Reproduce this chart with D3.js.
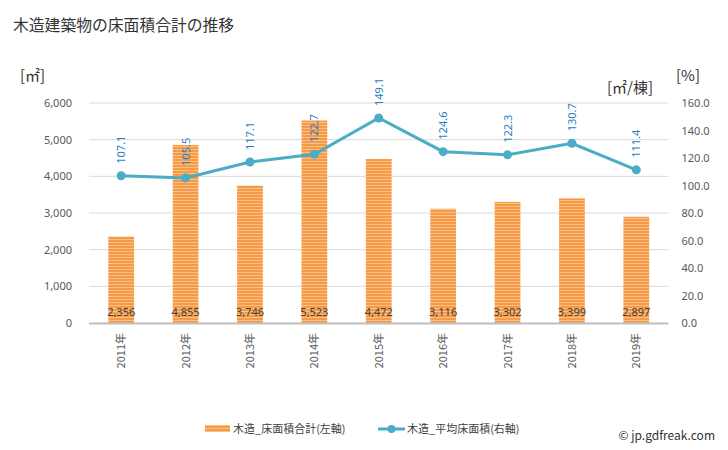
<!DOCTYPE html>
<html><head><meta charset="utf-8">
<script src="https://cdn.jsdelivr.net/npm/d3@7"></script>
<style>body{margin:0;background:#fff;}svg{display:block;font-family:"Noto Sans CJK JP","Noto Sans",sans-serif;}</style>
</head><body>
<svg id="c" width="728" height="450"></svg>
<script>
const categories = ["2011年","2012年","2013年","2014年","2015年","2016年","2017年","2018年","2019年"];
const areaTotal = [2356,4855,3746,5523,4472,3116,3302,3399,2897];
const avgArea = [107.1,105.5,117.1,122.7,149.1,124.6,122.3,130.7,111.4];
const leftTicks = [0,1000,2000,3000,4000,5000,6000];
const rightTicks = [0,20,40,60,80,100,120,140,160];
const seriesNames = ["木造_床面積合計(左軸)","木造_平均床面積(右軸)"];

const svg = d3.select("#c");
const L = 89, R = 668.5, T = 103, B = 323;
const x = d3.scaleBand().domain(categories).range([L,R]).paddingInner(0.6).paddingOuter(0.3);
const xc = d => x(d) + x.bandwidth()/2;
const yL = d3.scaleLinear().domain([0,6000]).range([B,T]);
const yR = d3.scaleLinear().domain([0,160]).range([B,T]);

const defs = svg.append("defs");
const pat = defs.append("pattern").attr("id","stripe").attr("patternUnits","userSpaceOnUse").attr("width",4).attr("height",3);
pat.append("rect").attr("width",4).attr("height",3).attr("fill","#fbc08a");
pat.append("rect").attr("width",4).attr("height",2).attr("fill","#f79a45");

svg.append("text").attr("x",13).attr("y",31).attr("font-size",15.8).attr("fill","#333").text("木造建築物の床面積合計の推移");

// gridlines
svg.append("g").selectAll("line").data(leftTicks.filter(d=>d>0)).join("line")
  .attr("x1",L).attr("x2",R).attr("y1",d=>yL(d)).attr("y2",d=>yL(d))
  .attr("stroke","#d9d9d9").attr("stroke-width",1);

// left axis
const ga = svg.append("g").attr("transform",`translate(${L-14},0)`)
  .call(d3.axisLeft(yL).tickValues(leftTicks).tickFormat(d3.format(",")).tickSize(0));
ga.select(".domain").remove();
ga.selectAll("text").attr("font-size",11).attr("fill","#595959").attr("font-family","Noto Sans, sans-serif");

const gr = svg.append("g").attr("transform",`translate(${R+10},0)`)
  .call(d3.axisRight(yR).tickValues(rightTicks).tickFormat(d3.format(".1f")).tickSize(0));
gr.select(".domain").remove();
gr.selectAll("text").attr("font-size",11).attr("fill","#595959").attr("font-family","Noto Sans, sans-serif");

// bars
svg.append("g").selectAll("rect").data(areaTotal).join("rect")
  .attr("x",(d,i)=>x(categories[i])).attr("width",x.bandwidth())
  .attr("y",d=>yL(d)).attr("height",d=>B-yL(d)).attr("fill","url(#stripe)");

// baseline
svg.append("line").attr("x1",L).attr("x2",R).attr("y1",B+0.5).attr("y2",B+0.5).attr("stroke","#bfbfbf").attr("stroke-width",2);

// bar labels
svg.append("g").selectAll("text").data(areaTotal).join("text")
  .attr("x",(d,i)=>xc(categories[i])).attr("y",B-7).attr("text-anchor","middle")
  .attr("font-size",11).attr("fill","#404040").attr("font-family","Noto Sans, sans-serif")
  .text(d=>d3.format(",")(d));

// x labels
svg.append("g").selectAll("text").data(categories).join("text")
  .attr("transform",d=>`translate(${xc(d)+4},${B+10}) rotate(-90)`)
  .attr("text-anchor","end").attr("font-size",11).attr("fill","#595959")
  .text(d=>d);

// line
const line = d3.line().x((d,i)=>xc(categories[i])).y(d=>yR(d));
svg.append("path").datum(avgArea).attr("d",line).attr("fill","none").attr("stroke","#4bacc6").attr("stroke-width",3);
svg.append("g").selectAll("circle").data(avgArea).join("circle")
  .attr("cx",(d,i)=>xc(categories[i])).attr("cy",d=>yR(d)).attr("r",4.5).attr("fill","#4bacc6");
svg.append("g").selectAll("text").data(avgArea).join("text")
  .attr("transform",(d,i)=>`translate(${xc(categories[i])+4},${yR(d)-12}) rotate(-90)`)
  .attr("text-anchor","start").attr("font-size",11).attr("fill","#1f7fc4").attr("font-family","Noto Sans, sans-serif")
  .text(d=>d3.format(".1f")(d));

// axis units
svg.append("text").attr("x",20).attr("y",81).attr("font-size",15).attr("fill","#333").text("[㎡]");
svg.append("text").attr("x",676).attr("y",81).attr("font-size",15).attr("fill","#333").text("[%]");
svg.append("text").attr("x",607).attr("y",93).attr("font-size",15).attr("fill","#333").text("[㎡/棟]");

// legend
const lg = svg.append("g");
lg.append("rect").attr("x",205).attr("y",425).attr("width",25).attr("height",7).attr("fill","url(#stripe)");
lg.append("text").attr("x",233).attr("y",433).attr("font-size",11).attr("fill","#404040").text(seriesNames[0]);
lg.append("line").attr("x1",378).attr("x2",405).attr("y1",429).attr("y2",429).attr("stroke","#4bacc6").attr("stroke-width",3);
lg.append("circle").attr("cx",391.5).attr("cy",429).attr("r",4).attr("fill","#4bacc6");
lg.append("text").attr("x",407).attr("y",433).attr("font-size",11).attr("fill","#404040").text(seriesNames[1]);

svg.append("text").attr("x",715).attr("y",440).attr("text-anchor","end").attr("font-size",12).attr("fill","#333").text("© jp.gdfreak.com");
</script>
</body></html>
